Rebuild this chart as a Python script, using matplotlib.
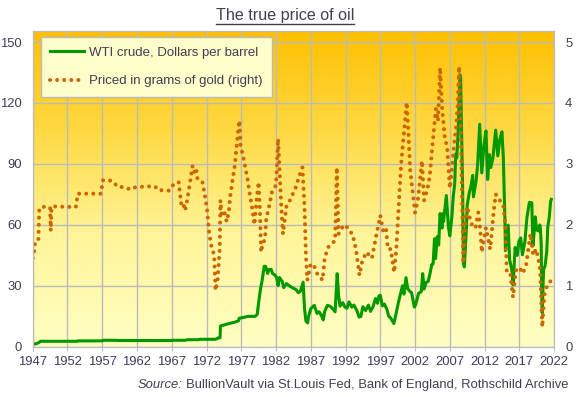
import numpy as np
import matplotlib
matplotlib.use("Agg")
import matplotlib.pyplot as plt
from matplotlib.colors import LinearSegmentedColormap
from matplotlib.lines import Line2D

plt.rcParams['font.family'] = ['Liberation Sans', 'DejaVu Sans']

# WTI crude, dollars per barrel
wti_years = [1947.0, 1947.5, 1947.9, 1948.1, 1953.4, 1953.5, 1957.0, 1957.1, 1959.1, 1959.2,
             1964.3, 1964.4, 1966.9, 1967.0, 1969.0, 1969.2, 1970.9, 1971.0, 1973.3, 1973.5,
             1973.8, 1973.95, 1974.0, 1975.1, 1976.1, 1976.6, 1976.7, 1977.5, 1978.0, 1979.0,
             1979.3, 1979.5, 1979.8, 1980.0, 1980.3, 1980.5, 1980.8, 1981.0, 1981.3, 1981.5,
             1981.9, 1982.1, 1982.3, 1982.5, 1982.9, 1983.1, 1983.5, 1984.0, 1984.5, 1984.9,
             1985.2, 1985.5, 1985.9, 1986.1, 1986.3, 1986.55, 1986.7, 1987.0, 1987.5, 1987.9,
             1988.2, 1988.5, 1988.8, 1989.0, 1989.4, 1989.8, 1990.2, 1990.5, 1990.8, 1991.0,
             1991.2, 1991.6, 1991.9, 1992.2, 1992.5, 1992.9, 1993.2, 1993.6, 1993.95, 1994.2,
             1994.5, 1994.9, 1995.3, 1995.6, 1995.95, 1996.3, 1996.6, 1996.8, 1997.0, 1997.3,
             1997.6, 1997.95, 1998.2, 1998.5, 1998.95, 1999.2, 1999.5, 1999.8, 2000.0, 2000.2,
             2000.4, 2000.7, 2000.95, 2001.2, 2001.5, 2001.9, 2002.1, 2002.5, 2002.9, 2003.1,
             2003.3, 2003.6, 2003.9, 2004.2, 2004.4, 2004.6, 2004.8, 2004.95, 2005.2, 2005.4,
             2005.6, 2005.9, 2006.0, 2006.1, 2006.5, 2006.8, 2007.0, 2007.3, 2007.5, 2007.7,
             2007.85, 2008.0, 2008.2, 2008.45, 2008.55, 2008.7, 2008.85, 2008.95, 2009.1, 2009.4,
             2009.5, 2009.8, 2010.0, 2010.3, 2010.4, 2010.8, 2011.0, 2011.3, 2011.6, 2011.9,
             2012.2, 2012.45, 2012.7, 2012.9, 2013.2, 2013.6, 2013.9, 2014.2, 2014.5, 2014.7,
             2014.95, 2015.0, 2015.4, 2015.6, 2015.95, 2016.1, 2016.4, 2016.7, 2016.95, 2017.2,
             2017.45, 2017.8, 2017.95, 2018.1, 2018.45, 2018.8, 2018.95, 2019.1, 2019.3, 2019.5,
             2019.8, 2019.95, 2020.05, 2020.15, 2020.2, 2020.3, 2020.4, 2020.5, 2020.7, 2020.95,
             2021.1, 2021.3, 2021.5, 2021.6]
wti_usd = [1.17, 1.37, 1.96, 2.57, 2.57, 2.77, 2.77, 3.07, 3.07, 2.97,
           2.97, 2.92, 2.92, 3.07, 3.07, 3.35, 3.35, 3.56, 3.56, 3.87,
           4.31, 4.31, 10.11, 11.16, 12.03, 12.6, 13.9, 14.5, 14.85, 14.85,
           15.85, 21.75, 29.0, 32.5, 39.5, 39.5, 36.0, 38.0, 38.0, 36.0,
           35.0, 33.85, 30.0, 34.0, 32.0, 29.0, 31.0, 29.7, 28.7, 28.0,
           26.5, 27.2, 31.7, 18.8, 12.6, 11.6, 15.1, 18.6, 20.3, 16.3,
           17.1, 15.5, 13.1, 17.3, 20.3, 19.8, 18.4, 17.1, 35.9, 25.2,
           19.9, 21.6, 19.5, 18.8, 22.0, 19.4, 20.4, 18.0, 14.5, 14.8,
           19.6, 17.7, 20.4, 17.3, 19.5, 23.6, 21.3, 24.9, 25.2, 20.0,
           20.9, 18.3, 15.0, 14.0, 11.3, 15.0, 20.0, 24.5, 27.2, 29.9,
           25.8, 33.9, 28.4, 27.4, 26.5, 19.4, 20.7, 26.2, 27.0, 35.9,
           28.3, 31.6, 32.1, 36.7, 40.3, 40.7, 53.1, 43.3, 54.2, 50.0,
           65.5, 58.3, 65.5, 61.6, 74.4, 58.9, 54.5, 63.9, 74.1, 79.9,
           94.8, 92.9, 105.4, 133.9, 133.4, 104.0, 76.6, 41.0, 39.2, 59.1,
           69.6, 75.7, 78.3, 84.3, 73.7, 81.9, 89.5, 109.5, 85.5, 98.6,
           106.2, 82.3, 94.5, 88.2, 92.9, 106.6, 93.9, 102.0, 105.8, 93.2,
           59.3, 47.2, 59.8, 42.9, 37.2, 30.3, 48.8, 44.9, 52.0, 53.5,
           45.2, 51.6, 57.9, 63.7, 71.0, 70.8, 49.5, 54.9, 63.9, 57.4,
           56.9, 59.9, 57.5, 50.5, 29.2, 16.6, 28.6, 38.3, 39.6, 47.0,
           59.0, 63.5, 71.4, 72.5]

# oil priced in grams of gold, right axis
gold_years = [1947.0, 1947.2, 1947.3, 1947.8, 1947.95, 1948.8, 1949.5, 1949.6, 1949.7, 1950.0,
              1953.2, 1953.5, 1956.8, 1957.1, 1958.0, 1958.7, 1959.1, 1960.4, 1961.0, 1961.5,
              1963.4, 1964.6, 1965.0, 1966.6, 1967.0, 1967.6, 1968.0, 1968.2, 1968.35, 1968.6,
              1968.9, 1969.2, 1969.5, 1970.0, 1970.3, 1970.5, 1970.7, 1971.4, 1971.8, 1972.1,
              1972.4, 1972.7, 1973.1, 1973.3, 1973.6, 1973.9, 1974.0, 1974.2, 1974.6, 1974.9,
              1975.2, 1975.4, 1975.8, 1976.0, 1976.3, 1976.6, 1976.75, 1976.9, 1977.3, 1977.9,
              1978.2, 1978.6, 1978.9, 1979.2, 1979.5, 1979.7, 1979.85, 1980.1, 1980.4, 1980.6,
              1981.0, 1981.4, 1982.0, 1982.3, 1982.5, 1982.8, 1983.0, 1983.5, 1984.0, 1984.8,
              1985.5, 1985.8, 1986.1, 1986.3, 1986.5, 1987.0, 1987.5, 1987.9, 1988.7, 1989.0,
              1989.5, 1990.5, 1990.75, 1991.0, 1991.5, 1992.0, 1992.5, 1993.0, 1993.5, 1994.0,
              1994.4, 1995.0, 1995.8, 1996.3, 1997.0, 1997.4, 1997.8, 1998.1, 1998.5, 1999.0,
              1999.3, 1999.7, 2000.0, 2000.4, 2000.8, 2001.0, 2001.3, 2001.7, 2002.0, 2002.4,
              2003.0, 2003.3, 2003.8, 2004.1, 2004.5, 2005.0, 2005.3, 2005.6, 2005.9, 2006.3,
              2006.6, 2007.0, 2007.3, 2007.6, 2007.9, 2008.1, 2008.35, 2008.6, 2008.8, 2008.95,
              2009.2, 2009.5, 2009.9, 2010.3, 2010.7, 2011.1, 2011.4, 2011.6, 2012.2, 2012.8,
              2013.0, 2013.3, 2013.6, 2014.2, 2014.7, 2015.0, 2015.2, 2015.7, 2016.1, 2016.5,
              2017.0, 2017.5, 2018.0, 2018.6, 2019.0, 2019.4, 2019.8, 2020.0, 2020.3, 2020.6,
              2021.0, 2021.6]
gold_grams = [1.45, 1.55, 1.68, 1.72, 2.27, 2.30, 2.28, 1.90, 2.28, 2.30,
              2.29, 2.51, 2.51, 2.73, 2.73, 2.70, 2.63, 2.61, 2.58, 2.61,
              2.63, 2.63, 2.57, 2.56, 2.63, 2.69, 2.70, 2.50, 2.35, 2.38,
              2.23, 2.39, 2.60, 2.97, 2.86, 2.92, 2.76, 2.71, 2.46, 2.23,
              1.85, 1.65, 1.50, 0.92, 1.10, 1.60, 2.40, 2.15, 2.20, 2.05,
              2.20, 2.45, 2.78, 2.90, 3.25, 3.60, 3.71, 3.30, 3.11, 2.75,
              2.52, 2.25, 2.00, 2.40, 2.70, 2.20, 1.55, 1.70, 1.75, 2.10,
              2.30, 2.53, 2.65, 3.41, 2.90, 2.20, 1.85, 2.30, 2.40, 2.60,
              2.85, 2.94, 2.30, 1.50, 1.09, 1.36, 1.32, 1.20, 1.09, 1.45,
              1.63, 1.74, 2.94, 1.85, 1.95, 2.00, 1.90, 1.85, 1.60, 1.17,
              1.40, 1.55, 1.45, 1.75, 2.15, 1.90, 1.95, 1.60, 1.60, 1.22,
              1.60, 2.40, 3.00, 3.50, 4.01, 3.60, 2.90, 2.50, 2.20, 2.40,
              3.05, 2.40, 2.60, 2.78, 3.30, 3.90, 3.70, 4.58, 3.90, 3.40,
              3.30, 2.60, 2.90, 3.30, 3.60, 3.90, 4.60, 3.50, 2.20, 1.37,
              2.00, 2.30, 2.10, 1.96, 1.95, 2.20, 1.90, 1.55, 1.95, 1.60,
              1.82, 2.20, 2.50, 2.40, 2.30, 2.00, 1.22, 1.20, 0.81, 1.25,
              1.30, 1.20, 1.35, 1.85, 1.50, 1.60, 1.40, 1.25, 0.32, 0.85,
              1.00, 1.09]

x_ticks = list(range(1947, 2023, 5))
left_ticks = [0, 30, 60, 90, 120, 150]
right_ticks = [0, 1, 2, 3, 4, 5]

text_col = '#3F3F55'
grid_col = '#BBBBBB'
green = '#009900'
orange = '#CC6600'
fs = 9.4

fig = plt.figure(figsize=(5.78, 3.97), dpi=100)
ax = fig.add_axes([0.0566, 0.1272, 0.902, 0.795])

# yellow-to-orange background
cmap = LinearSegmentedColormap.from_list(
    'bg', [(0, '#FFFFC4'), (0.35, '#FFF59A'), (0.7, '#FFD840'), (1, '#FFC000')])
grad = np.linspace(0, 1, 256).reshape(-1, 1)
ax.imshow(grad, aspect='auto', cmap=cmap, origin='lower',
          extent=[1947, 2022, 0, 155.5], zorder=0)
ax.set_xlim(1947, 2022)
ax.set_ylim(0, 155.5)

ax.set_xticks(x_ticks)
ax.set_yticks(left_ticks)
ax.set_axisbelow(True)
ax.grid(True, color=grid_col, lw=1)
for s in ax.spines.values():
    s.set_color(grid_col)
ax.tick_params(axis='y', length=0, pad=8, labelsize=fs, labelcolor=text_col)
ax.tick_params(axis='x', length=3, color=grid_col, pad=4, labelsize=fs, labelcolor=text_col)

l1, = ax.plot(wti_years, wti_usd, color=green, lw=2.2, solid_joinstyle='round',
              label='WTI crude, Dollars per barrel', zorder=2)

ax2 = ax.twinx()
ax2.set_ylim(0, 155.5 / 30)
ax2.set_yticks(right_ticks)
ax2.tick_params(axis='y', length=0, pad=8, labelsize=fs, labelcolor=text_col)
for s in ax2.spines.values():
    s.set_color(grid_col)
l2, = ax2.plot(gold_years, gold_grams, color=orange, lw=2.9,
               linestyle=(0, (0.01, 1.75)), dash_capstyle='round',
               label='Priced in grams of gold (right)')

leg = ax2.legend(handles=[l1, l2], loc='upper left', bbox_to_anchor=(0.0153, 0.98),
                 borderaxespad=0, fancybox=False, framealpha=1, facecolor='#FFFFCC',
                 edgecolor=grid_col, fontsize=9.5, labelspacing=1.25, handlelength=2.6,
                 handletextpad=0.35, borderpad=0.7)
for t in leg.get_texts():
    t.set_color(text_col)
leg.get_frame().set_linewidth(1)

# underlined title
title = fig.text(0.493, 0.962, 'The true price of oil', ha='center', va='center',
                 fontsize=11.6, color=text_col)
fig.canvas.draw()
r = fig.canvas.get_renderer()
bb = title.get_window_extent(r).transformed(fig.transFigure.inverted())
fig.add_artist(Line2D([bb.x0, bb.x1], [bb.y0 - 0.004, bb.y0 - 0.004],
                      color=text_col, lw=1, transform=fig.transFigure))

# source line, italic "Source:" followed by the rest
src = fig.text(0.984, 0.03, 'BullionVault via St.Louis Fed, Bank of England, Rothschild Archive',
               ha='right', va='center', fontsize=9.4, color=text_col)
fig.canvas.draw()
sb = src.get_window_extent(r).transformed(fig.transFigure.inverted())
fig.text(sb.x0 - 0.006, 0.03, 'Source:', ha='right', va='center', fontsize=9.4,
         style='italic', color=text_col)

fig.savefig('out.png', dpi=100)
